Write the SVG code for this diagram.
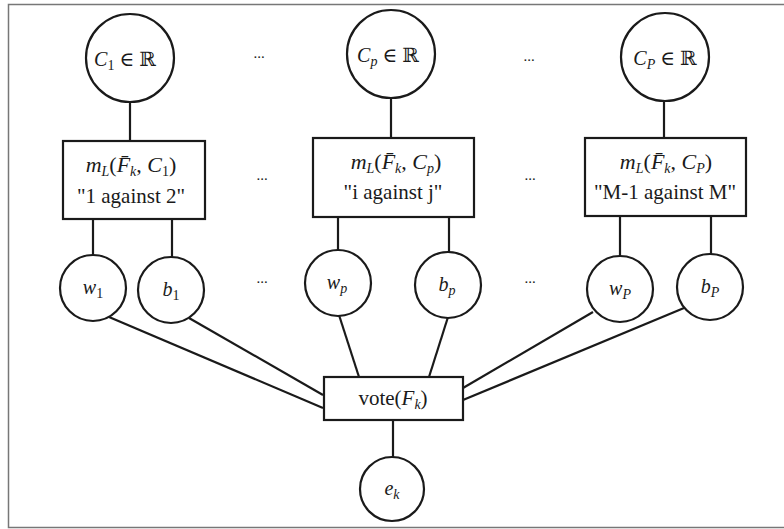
<svg xmlns="http://www.w3.org/2000/svg" width="784" height="529" viewBox="0 0 784 529" font-family="'Liberation Serif', 'DejaVu Serif', serif">
<style>
.n{fill:#fff;stroke:#1a1a1a;stroke-width:2.2}
.c line{stroke:#1a1a1a;stroke-width:2.2}
text{font-family:'Liberation Serif','DejaVu Serif',serif;fill:#1a1a1a;text-anchor:middle}
.m{font-style:italic}
.s{font-size:14px}
.d{font-size:15px}
</style>
<rect x="8.5" y="4.5" width="800" height="523" fill="#fff" stroke="#777" stroke-width="1.5"/>
<g class="c" id="connectors">
<line x1="130" y1="101" x2="130" y2="141"/>
<line x1="391" y1="97" x2="391" y2="138"/>
<line x1="664" y1="100" x2="664" y2="138"/>
<line x1="93" y1="219" x2="93" y2="256"/>
<line x1="172" y1="219" x2="172" y2="257"/>
<line x1="338" y1="217" x2="338" y2="251"/>
<line x1="449" y1="217" x2="449" y2="253"/>
<line x1="620" y1="216" x2="620" y2="256"/>
<line x1="711" y1="216" x2="711" y2="254"/>
<line x1="109" y1="317" x2="323" y2="408"/>
<line x1="189" y1="318" x2="323" y2="395"/>
<line x1="339" y1="315" x2="359" y2="377"/>
<line x1="448" y1="317" x2="429" y2="377"/>
<line x1="593" y1="312" x2="463" y2="388"/>
<line x1="684" y1="308" x2="463" y2="400"/>
<line x1="393" y1="420" x2="393" y2="457"/>
</g>
<g id="C1"><circle class="n" cx="130" cy="58" r="44"/><text x="125" y="66" font-size="20"><tspan class="m">C</tspan><tspan class="s" dy="4">1</tspan><tspan dy="-4"> ∈ ℝ</tspan></text></g>
<g id="Cp"><circle class="n" cx="391" cy="54" r="44"/><text x="388" y="62" font-size="20"><tspan class="m">C</tspan><tspan class="s m" dy="4">p</tspan><tspan dy="-4"> ∈ ℝ</tspan></text></g>
<g id="CP"><circle class="n" cx="665" cy="57" r="44"/><text x="665" y="65" font-size="20"><tspan class="m">C</tspan><tspan class="s m" dy="4">P</tspan><tspan dy="-4"> ∈ ℝ</tspan></text></g>
<text class="d" x="259" y="58">...</text>
<text class="d" x="529" y="61">...</text>
<g id="m1"><rect class="n" x="63" y="141" width="142" height="78"/><text x="131" y="172" font-size="22"><tspan class="m">m</tspan><tspan class="s m" dy="4">L</tspan><tspan dy="-4">(</tspan><tspan class="m">F̄</tspan><tspan class="s m" dy="4">k</tspan><tspan dy="-4">, </tspan><tspan class="m">C</tspan><tspan class="s" dy="4">1</tspan><tspan dy="-4">)</tspan></text><text x="131" y="203" font-size="21">"1 against 2"</text></g>
<g id="mp"><rect class="n" x="313" y="138" width="161" height="79"/><text x="396" y="169" font-size="22"><tspan class="m">m</tspan><tspan class="s m" dy="4">L</tspan><tspan dy="-4">(</tspan><tspan class="m">F̄</tspan><tspan class="s m" dy="4">k</tspan><tspan dy="-4">, </tspan><tspan class="m">C</tspan><tspan class="s m" dy="4">p</tspan><tspan dy="-4">)</tspan></text><text x="393" y="199" font-size="21">"i against j"</text></g>
<g id="mP"><rect class="n" x="585" y="138" width="161" height="78"/><text x="666" y="169" font-size="22"><tspan class="m">m</tspan><tspan class="s m" dy="4">L</tspan><tspan dy="-4">(</tspan><tspan class="m">F̄</tspan><tspan class="s m" dy="4">k</tspan><tspan dy="-4">, </tspan><tspan class="m">C</tspan><tspan class="s m" dy="4">P</tspan><tspan dy="-4">)</tspan></text><text x="665" y="199" font-size="21">"M-1 against M"</text></g>
<text class="d" x="262" y="180">...</text>
<text class="d" x="530" y="180">...</text>
<g id="w1"><circle class="n" cx="93" cy="288" r="33"/><text x="93" y="294" font-size="20"><tspan class="m">w</tspan><tspan class="s" dy="4">1</tspan></text></g>
<g id="b1"><circle class="n" cx="171" cy="290" r="33"/><text x="171" y="296" font-size="20"><tspan class="m">b</tspan><tspan class="s" dy="4">1</tspan></text></g>
<g id="wp"><circle class="n" cx="338" cy="283" r="33"/><text x="337" y="289" font-size="20"><tspan class="m">w</tspan><tspan class="s m" dy="4">p</tspan></text></g>
<g id="bp"><circle class="n" cx="448" cy="285" r="33"/><text x="447" y="291" font-size="20"><tspan class="m">b</tspan><tspan class="s m" dy="4">p</tspan></text></g>
<g id="wP"><circle class="n" cx="620" cy="289" r="33"/><text x="620" y="295" font-size="20"><tspan class="m">w</tspan><tspan class="s m" dy="4">P</tspan></text></g>
<g id="bP"><circle class="n" cx="710" cy="287" r="33"/><text x="710" y="293" font-size="20"><tspan class="m">b</tspan><tspan class="s m" dy="4">P</tspan></text></g>
<text class="d" x="262" y="283">...</text>
<text class="d" x="530" y="283">...</text>
<g id="vote"><rect class="n" x="324" y="377" width="139" height="43"/><text x="393" y="405" font-size="21">vote(<tspan class="m">F</tspan><tspan class="s m" dy="4">k</tspan><tspan dy="-4">)</tspan></text></g>
<g id="ek"><circle class="n" cx="392" cy="489" r="32"/><text x="392" y="495" font-size="20"><tspan class="m">e</tspan><tspan class="s m" dy="4">k</tspan></text></g>
</svg>
